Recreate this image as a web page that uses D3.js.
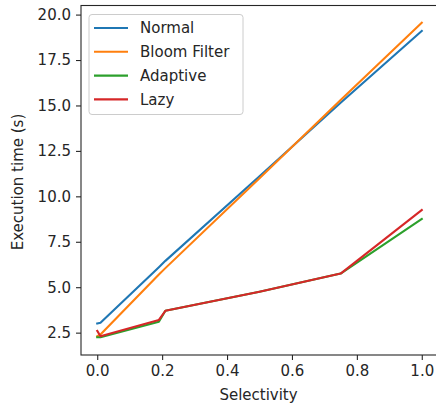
<!DOCTYPE html>
<html><head><meta charset="utf-8">
<script src="https://cdn.jsdelivr.net/npm/d3@7"></script>
<style>body{margin:0;background:#fff}svg{display:block}text{font-family:"DejaVu Sans",sans-serif;fill:#262626}</style>
</head><body><svg id="c" width="436" height="407"></svg>
<script>
const selectivity = [0, 0.01, 0.19, 0.21, 0.5, 0.75, 1.0];
const normal   = [3.0, 3.05, 6.1, 6.45, 11.1, 15.15, 19.1];
const bloom    = [2.3, 2.4, 5.7, 6.05, 11.0, 15.3, 19.55];
const adaptive = [2.25, 2.25, 3.1, 3.7, 4.75, 5.75, 8.75];
const lazy     = [2.6, 2.3, 3.2, 3.7, 4.75, 5.75, 9.25];
const seriesNames = ["Normal", "Bloom Filter", "Adaptive", "Lazy"];
const seriesColors = ["#1f77b4", "#ff7f0e", "#2ca02c", "#d62728"];
const xTicks = [0, 0.2, 0.4, 0.6, 0.8, 1.0];
const yTicks = [2.5, 5.0, 7.5, 10.0, 12.5, 15.0, 17.5, 20.0];

const svg = d3.select("#c");
const L = 81, R = 438, T = 5.5, B = 355;
const x = d3.scaleLinear().domain([-0.05, 1.05]).range([L, R]);
const y = d3.scaleLinear().domain([1.27, 20.5]).range([B, T]);
const fs = "15px";

const series = [normal, bloom, adaptive, lazy];
const line = d3.line().x((d, i) => x(selectivity[i])).y(d => y(d));
series.forEach((s, k) => {
  svg.append("path").datum(s).attr("d", line).attr("fill", "none")
    .attr("stroke", seriesColors[k]).attr("stroke-width", 2.1)
    .attr("stroke-linejoin", "round").attr("stroke-linecap", "square");
});

const xa = svg.append("g").attr("transform", `translate(0,${B})`)
  .call(d3.axisBottom(x).tickValues(xTicks).tickFormat(d3.format(".1f")).tickSizeInner(5).tickSizeOuter(0).tickPadding(5));
const ya = svg.append("g").attr("transform", `translate(${L},0)`)
  .call(d3.axisLeft(y).tickValues(yTicks).tickFormat(d3.format(".1f")).tickSizeInner(5).tickSizeOuter(0).tickPadding(5));
[xa, ya].forEach(a => {
  a.select(".domain").remove();
  a.selectAll("line").attr("stroke", "#262626").attr("stroke-width", 1.1);
  a.selectAll("text").style("font-size", fs).style("font-family", "DejaVu Sans").attr("fill", "#262626");
});
svg.append("rect").attr("x", L).attr("y", T).attr("width", R - L).attr("height", B - T)
  .attr("fill", "none").attr("stroke", "#262626").attr("stroke-width", 1.1);

svg.append("text").attr("x", (L + R) / 2 - 1).attr("y", 400).attr("text-anchor", "middle")
  .style("font-size", fs).text("Selectivity");
svg.append("text").attr("transform", `translate(23,182) rotate(-90)`).attr("text-anchor", "middle")
  .style("font-size", fs).text("Execution time (s)");

const lg = svg.append("g");
lg.append("rect").attr("x", 89).attr("y", 14.5).attr("width", 154).attr("height", 100).attr("rx", 3)
  .attr("fill", "#fff").attr("fill-opacity", 0.8).attr("stroke", "#cccccc").attr("stroke-width", 1);
seriesNames.forEach((n, k) => {
  const yy = 28 + k * 23.8;
  lg.append("line").attr("x1", 94).attr("x2", 128).attr("y1", yy).attr("y2", yy)
    .attr("stroke", seriesColors[k]).attr("stroke-width", 2.1);
  lg.append("text").attr("x", 140).attr("y", yy + 5.3).style("font-size", fs).text(n);
});
</script></body></html>
